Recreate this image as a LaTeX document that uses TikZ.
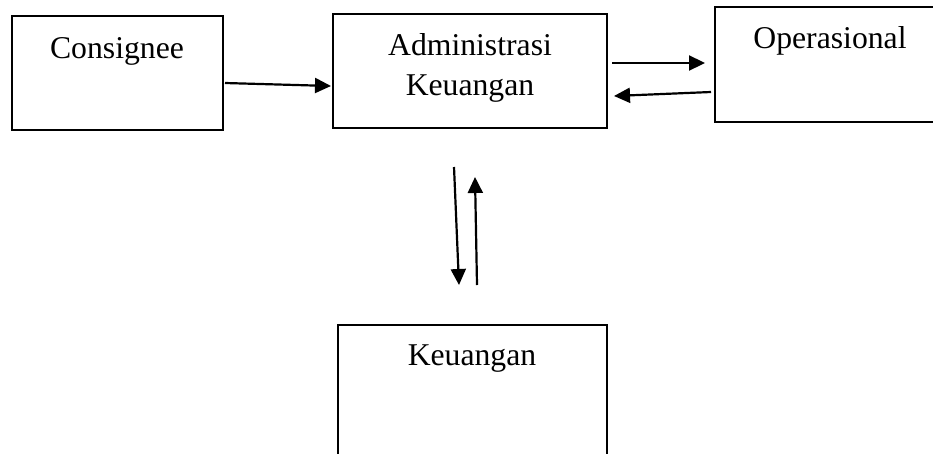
\documentclass[tikz,border=0pt]{standalone}
\usepackage{fontspec}
\setmainfont{Liberation Serif}
\usetikzlibrary{arrows.meta}
\begin{document}
\begin{tikzpicture}[x=1pt,y=-1pt,
  box/.style={draw,line width=2.6pt},
  lbl/.style={anchor=base,inner sep=0pt,font=\fontsize{31.7}{40}\selectfont},
  conn/.style={line width=2.2pt,-{Triangle[length=16pt,width=15pt]}}]
\useasboundingbox (0,0) rectangle (933,453);
\begin{scope}
\clip (0,0) rectangle (933,453);
\draw[box] (12,16) rectangle (223,130);
\draw[box] (333,14) rectangle (607,128);
\draw[box] (715,7) rectangle (945,122);
\draw[box] (338,325) rectangle (607,470);
\end{scope}
\node[lbl] (consT) at (117,58) {Consignee};
\node[lbl] (admT1) at (470,55) {Administrasi};
\node[lbl] (admT2) at (470,95) {Keuangan};
\node[lbl] (opsT) at (830,48) {Operasional};
\node[lbl] (keuT) at (472,365) {Keuangan};
\coordinate (a1) at (225,83);
\coordinate (a2) at (331,86);
\coordinate (b1) at (612,63);
\coordinate (b2) at (705,63);
\coordinate (c1) at (711,92);
\coordinate (c2) at (614,96);
\coordinate (d1) at (454,167);
\coordinate (d2) at (459,285);
\coordinate (e1) at (477,285);
\coordinate (e2) at (475,177);
\draw[conn] (a1) -- (a2);
\draw[conn] (b1) -- (b2);
\draw[conn] (c1) -- (c2);
\draw[conn] (d1) -- (d2);
\draw[conn] (e1) -- (e2);
\end{tikzpicture}
\end{document}
